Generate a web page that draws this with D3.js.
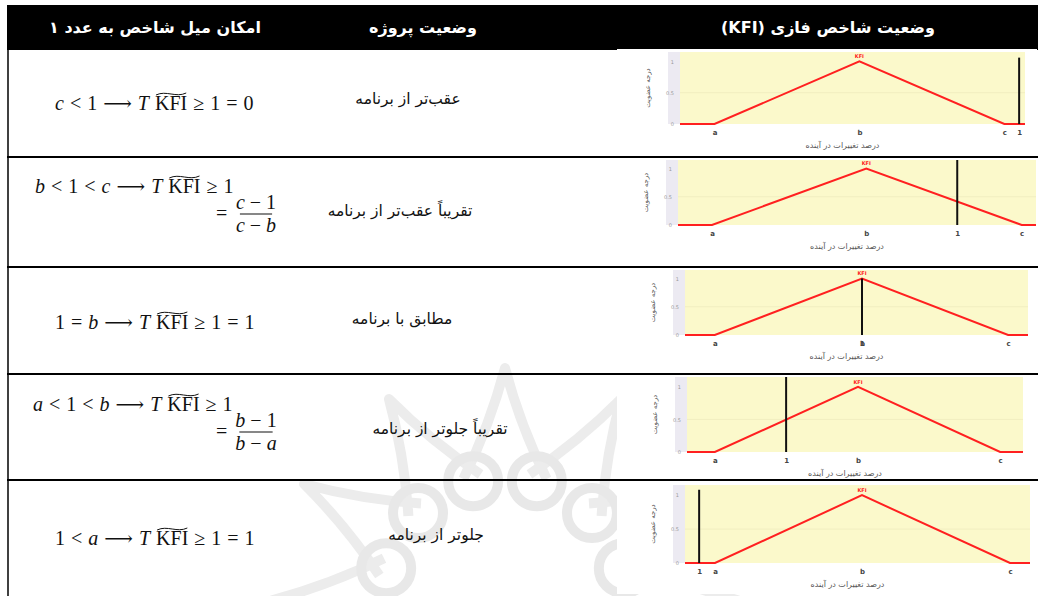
<!doctype html>
<html>
<head>
<meta charset="UTF-8">
<title>KFI</title>
<script src="https://d3js.org/d3.v7.min.js"></script>
<style>
	body { margin: 0; background: #fff; }
	.fa { font-family: 'DejaVu Sans', sans-serif; }
	.math text { font-family: 'Liberation Serif', 'DejaVu Serif', serif; font-size: 20px; fill: #111; }
	.tiny text { font-family: 'DejaVu Sans', sans-serif; }
</style>
</head>
<body>
<svg id="chart" width="1038" height="596"></svg>
<script>
// ---- data ----
var headers = ['امکان میل شاخص به عدد ۱', 'وضعیت پروژه', 'وضعیت شاخص فازی (KFI)'];
var statusLabels = ['عقب‌تر از برنامه', 'تقریباً عقب‌تر از برنامه', 'مطابق با برنامه', 'تقریباً جلوتر از برنامه', 'جلوتر از برنامه'];
var formulaLines = [
	'c < 1 ⟶ T KFI ≥ 1 = 0',
	'b < 1 < c ⟶ T KFI ≥ 1',
	'1 = b ⟶ T KFI ≥ 1 = 1',
	'a < 1 < b ⟶ T KFI ≥ 1',
	'1 < a ⟶ T KFI ≥ 1 = 1'
];
var fractionNum = [null, 'c − 1', null, 'b − 1', null];
var fractionDen = [null, 'c − b', null, 'b − a', null];
// positions on the x axis of each small chart (0-100 = plotted range)
var aValues = [10, 9.5, 8.7, 8.3, 8.7];
var bValues = [52, 52.6, 51.6, 50.9, 51.3];
var cValues = [94, 96, 94.2, 93.2, 94.2];
var oneValues = [98.3, 78, 51.6, 29.5, 4.1];
var markerTop = [1.06, 1.15, 1.0, 1.15, 1.08];
var xTickNames = ['a', 'b', 'c', '1'];
var yTicks = [0, 0.5, 1];
var yTickLabels = ['0', '0.5', '1'];
var xAxisTitle = 'درصد تغییرات در آینده';
var yAxisTitle = 'درجه عضویت';
var peakLabel = 'KFI';

// ---- layout ----
var rowLines = [157, 267, 374, 480];
var headerCenters = [155, 423, 828];
var statusPos = [[408, 104], [400, 216], [402, 324], [440, 434], [436, 540]];
var formulaPos = [[55, 110], [35, 193], [55, 329], [33, 411], [55, 545]];
var fracPos = [null, [216, 256, 214], null, [216, 256, 432]];
var boxes = [
	{left: 680, right: 1025, top: 52, bottom: 124},
	{left: 678, right: 1036, top: 160, bottom: 225},
	{left: 685, right: 1028, top: 270, bottom: 335},
	{left: 687, right: 1023, top: 377, bottom: 452},
	{left: 685, right: 1030, top: 485, bottom: 563}
];

var svg = d3.select('#chart');
svg.append('rect').attr('width', 1038).attr('height', 596).attr('fill', '#fff');

// faint watermark ornament behind the table
var wm = svg.append('g')
	.attr('fill', 'none')
	.attr('stroke', '#ececec')
	.attr('stroke-width', 10)
	.attr('stroke-linejoin', 'round');
var wc = [505, 600];
function polar(deg, r) {
	var t = deg * Math.PI / 180;
	return [wc[0] + r * Math.cos(t), wc[1] + r * Math.sin(t)];
}
d3.range(-180, 1, 30).forEach(function(deg) {
	var p0 = polar(deg - 19, 128), c0 = polar(deg - 5, 175), tip = polar(deg, 232),
		c1 = polar(deg + 5, 175), p1 = polar(deg + 19, 128);
	wm.append('path')
		.attr('d', 'M' + p0 + ' Q' + c0 + ' ' + tip + ' Q' + c1 + ' ' + p1);
});
d3.range(-195, 30, 30).forEach(function(deg) {
	var p = polar(deg, 123);
	wm.append('circle').attr('cx', p[0]).attr('cy', p[1]).attr('r', 25)
		.attr('stroke', '#e8e8e8');
});

// header band
svg.append('rect').attr('x', 7).attr('y', 5).attr('width', 1031).attr('height', 45).attr('fill', '#000');
svg.selectAll('.head')
	.data(headers)
	.enter().append('text')
	.attr('class', 'fa head')
	.attr('x', function(d, i) { return headerCenters[i]; })
	.attr('y', 33)
	.attr('text-anchor', 'middle')
	.attr('direction', 'rtl')
	.attr('font-size', 16)
	.attr('font-weight', 'bold')
	.attr('fill', '#fff')
	.text(function(d) { return d; });

// small membership charts
boxes.forEach(function(L, i) {
	var x = d3.scaleLinear().domain([0, 100]).range([L.left, L.right]);
	var y = d3.scaleLinear().domain([0, 1.15]).range([L.bottom, L.top]);
	var g = svg.append('g').attr('class', 'tiny');
	g.append('rect')
		.attr('x', 617).attr('y', L.top - 3)
		.attr('width', 420).attr('height', L.bottom - L.top + 34)
		.attr('fill', '#fff');
	g.append('rect')
		.attr('x', L.left - 12).attr('y', L.top)
		.attr('width', 12).attr('height', L.bottom - L.top)
		.attr('fill', '#eceaf2');
	g.append('rect')
		.attr('x', L.left).attr('y', L.top)
		.attr('width', L.right - L.left).attr('height', L.bottom - L.top)
		.attr('fill', '#fbf9cb');
	g.selectAll('.grid')
		.data([0.5])
		.enter().append('line')
		.attr('x1', L.left).attr('x2', L.right)
		.attr('y1', function(d) { return y(d); }).attr('y2', function(d) { return y(d); })
		.attr('stroke', '#f1eec0');

	var ya = g.append('g')
		.attr('transform', 'translate(' + (L.left - 3) + ',0)')
		.call(d3.axisLeft(y).tickValues(yTicks).tickSize(0)
			.tickFormat(function(d, j) { return yTickLabels[j]; }));
	ya.select('.domain').remove();
	ya.selectAll('text').attr('font-size', 5).attr('fill', '#999');

	var xs = [aValues[i], bValues[i], cValues[i], oneValues[i]];
	var xa = g.append('g')
		.attr('transform', 'translate(0,' + (L.bottom + 3) + ')')
		.call(d3.axisBottom(x).tickValues(xs).tickSize(0)
			.tickFormat(function(d, j) { return xTickNames[j]; }));
	xa.select('.domain').remove();
	xa.selectAll('text').attr('font-size', 7).attr('font-weight', 'bold').attr('fill', '#444');

	g.append('text')
		.attr('x', (L.left + L.right) / 2 - 10)
		.attr('y', L.bottom + 24)
		.attr('text-anchor', 'middle')
		.attr('direction', 'rtl')
		.attr('font-size', 8)
		.attr('fill', '#555')
		.text(xAxisTitle);
	g.append('text')
		.attr('transform', 'translate(' + (L.left - 30) + ',' + ((L.top + L.bottom) / 2) + ') rotate(-90)')
		.attr('text-anchor', 'middle')
		.attr('direction', 'rtl')
		.attr('font-size', 7)
		.attr('fill', '#555')
		.text(yAxisTitle);

	var line = d3.line()
		.x(function(d) { return x(d[0]); })
		.y(function(d) { return y(d[1]); });
	var pts = [[0, 0], [aValues[i], 0], [bValues[i], 1], [cValues[i], 0], [100, 0]];
	g.append('path')
		.datum(pts)
		.attr('d', line)
		.attr('fill', 'none')
		.attr('stroke', '#ff2020')
		.attr('stroke-width', 2);
	g.append('text')
		.attr('x', x(bValues[i]))
		.attr('y', y(1) - 3)
		.attr('text-anchor', 'middle')
		.attr('font-size', 5)
		.attr('font-weight', 'bold')
		.attr('fill', '#ff2020')
		.text(peakLabel);
	g.append('line')
		.attr('x1', x(oneValues[i])).attr('x2', x(oneValues[i]))
		.attr('y1', y(markerTop[i])).attr('y2', y(0))
		.attr('stroke', '#111')
		.attr('stroke-width', 2);
});

// row separators and left border
svg.selectAll('.rowline')
	.data(rowLines)
	.enter().append('line')
	.attr('x1', 7).attr('x2', 1038)
	.attr('y1', function(d) { return d; }).attr('y2', function(d) { return d; })
	.attr('stroke', '#000')
	.attr('stroke-width', 2);
svg.append('line').attr('x1', 8).attr('x2', 8).attr('y1', 5).attr('y2', 596)
	.attr('stroke', '#000').attr('stroke-width', 1.5);

// status column
svg.selectAll('.status')
	.data(statusLabels)
	.enter().append('text')
	.attr('class', 'fa status')
	.attr('x', function(d, i) { return statusPos[i][0]; })
	.attr('y', function(d, i) { return statusPos[i][1]; })
	.attr('text-anchor', 'middle')
	.attr('direction', 'rtl')
	.attr('font-size', 15.5)
	.attr('fill', '#111')
	.text(function(d) { return d; });

// formulas, laid out token by token
var italics = {a: 1, b: 1, c: 1, T: 1};
var gap = 6;
function drawTokens(g, str, x0, y0) {
	var xPos = x0;
	str.split(' ').forEach(function(tok) {
		var t = g.append('text')
			.attr('x', xPos).attr('y', y0)
			.attr('font-style', italics[tok] ? 'italic' : 'normal')
			.text(tok);
		var w = t.node().getComputedTextLength();
		if (tok === 'KFI') {
			var ty = y0 - 17;
			g.append('path')
				.attr('d', 'M' + (xPos + 1) + ',' + (ty + 2) +
					' C' + (xPos + w * 0.35) + ',' + (ty - 3) + ' ' +
					(xPos + w * 0.65) + ',' + (ty + 5) + ' ' + (xPos + w - 1) + ',' + ty)
				.attr('fill', 'none').attr('stroke', '#111').attr('stroke-width', 1);
		}
		xPos += w + gap;
	});
	return xPos;
}
var mg = svg.append('g').attr('class', 'math');
formulaLines.forEach(function(f, i) {
	drawTokens(mg, f, formulaPos[i][0], formulaPos[i][1]);
	if (fractionNum[i]) {
		var p = fracPos[i];
		mg.append('text').attr('x', p[0]).attr('y', p[2] + 6).text('=');
		var num = mg.append('text').attr('text-anchor', 'middle')
			.attr('x', p[1]).attr('y', p[2] - 5);
		var den = mg.append('text').attr('text-anchor', 'middle')
			.attr('x', p[1]).attr('y', p[2] + 18);
		[[num, fractionNum[i]], [den, fractionDen[i]]].forEach(function(pair) {
			pair[1].split(' ').forEach(function(tok, k) {
				pair[0].append('tspan')
					.attr('font-style', italics[tok] ? 'italic' : 'normal')
					.attr('dx', k ? 5 : 0)
					.text(tok);
			});
		});
		var w = Math.max(num.node().getComputedTextLength(), den.node().getComputedTextLength());
		mg.append('line')
			.attr('x1', p[1] - w / 2 - 1).attr('x2', p[1] + w / 2 + 1)
			.attr('y1', p[2]).attr('y2', p[2])
			.attr('stroke', '#111').attr('stroke-width', 1.2);
	}
});
</script>
</body>
</html>
